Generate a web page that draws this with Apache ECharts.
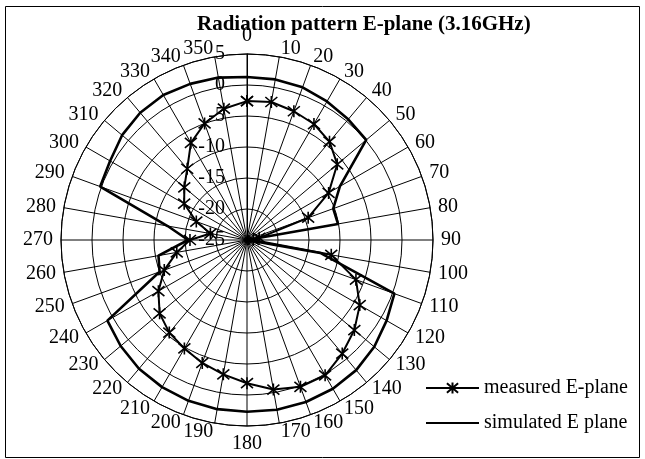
<!DOCTYPE html>
<html>
<head>
<meta charset="utf-8">
<script src="https://cdn.jsdelivr.net/npm/echarts@6/dist/echarts.min.js"></script>
<style>html,body{margin:0;padding:0;background:#fff}#c{width:645px;height:459px}</style>
</head>
<body>
<div id="c"></div>
<script>
const angles = ['0','10','20','30','40','50','60','70','80','90','100','110','120','130','140','150','160','170','180','190','200','210','220','230','240','250','260','270','280','290','300','310','320','330','340','350'];
const angleDeg = [0,10,20,30,40,50,60,70,80,90,100,110,120,130,140,150,160,170,180,190,200,210,220,230,240,250,260,270,280,290,300,310,320,330,340,350];
const measured = [-2.6,-2.4,-2.9,-3.4,-4.3,-6.0,-9.8,-14.5,-23,-24,-11.2,-6.3,-4.0,-2.4,-1.1,0.2,0.2,-0.5,-1.9,-3.0,-3.9,-4.8,-5.5,-6.6,-8.5,-10.8,-13.5,-15.8,-19,-16.3,-13.3,-11.8,-10.0,-6.9,-5.0,-3.5];
const simulated = [1.3,1.3,1.2,0.8,0.4,0.1,-7.7,-10.2,-10.1,-25,-13,0.3,1.0,1.8,2.4,2.7,2.8,2.8,2.7,2.7,2.6,2.4,2.1,1.6,1.0,-10,-10.5,-15.5,-12,0.2,0.5,1.3,1.8,2.0,1.8,1.6];
const radiusMin = -25, radiusMax = 5, radiusStep = 5;

function closed(arr){ const d = arr.map((v,i)=>[v,angleDeg[i]]); d.push([arr[0],360]); return d; }
const FONT = 'Liberation Serif';
function angleLabel(val){
  const i = angleDeg.indexOf(val);
  if (i < 0) return '';
  const t = angles[i];
  if (val === 0 || val === 180) return '{v|' + t + '}';
  if (val === 10) return '{l2|' + t + '}';
  if (val === 170) return '{l3|' + t + '}';
  if (val === 190 || val === 350) return '{r3|' + t + '}';
  return '{m|' + t + '}';
}
const base = {fontFamily:FONT,fontSize:20,color:'#000'};
const chart = echarts.init(document.getElementById('c'), null, {renderer:'canvas'});
chart.setOption({
  animation:false,
  backgroundColor:'#fff',
  title:{text:'Radiation pattern E-plane (3.16GHz)', left:197, top:14, padding:0,
    textStyle:{fontFamily:FONT,fontSize:21,fontWeight:'bold',color:'#000'}},
  graphic:[{type:'rect', shape:{x:5.5,y:6.5,width:634,height:451}, style:{fill:'none',stroke:'#000',lineWidth:1}, z:-1}],
  legend:{orient:'vertical', left:425, top:378, padding:0, itemWidth:53, itemHeight:14, itemGap:15,
    textStyle:{fontFamily:FONT,fontSize:20,color:'#000'},
    data:['measured E-plane',{name:'simulated E plane', itemStyle:{opacity:0}}]},
  polar:{center:[247,240], radius:186},
  angleAxis:{type:'value', min:0, max:360, interval:10, startAngle:90, clockwise:true,
    axisLine:{show:true,lineStyle:{color:'#000',width:1}},
    axisTick:{show:false},
    axisLabel:{fontFamily:FONT,fontSize:20,color:'#000',margin:8,formatter:angleLabel,
      rich:{
        v:Object.assign({lineHeight:20},base),
        m:Object.assign({lineHeight:1},base),
        l2:Object.assign({lineHeight:1,padding:[0,0,0,20]},base),
        l3:Object.assign({lineHeight:1,padding:[0,0,0,30]},base),
        r3:Object.assign({lineHeight:1,padding:[0,30,0,0]},base)
      }},
    splitLine:{show:true,lineStyle:{color:'#000',width:1}},
    splitArea:{show:false}},
  radiusAxis:{type:'value', min:radiusMin, max:radiusMax, interval:radiusStep,
    axisLine:{show:true,lineStyle:{color:'#000',width:1}},
    axisTick:{show:false},
    axisLabel:{fontFamily:FONT,fontSize:20,color:'#000',margin:22,alignMaxLabel:'right',alignMinLabel:'right'},
    splitLine:{show:true,lineStyle:{color:'#000',width:1}}},
  series:[
    {name:'measured E-plane', type:'line', coordinateSystem:'polar', data:closed(measured), clip:false,
     symbol:'path://M0,0L10,10M0,10L10,0M5,-1L5,11', symbolSize:[12,12], showSymbol:true,
     lineStyle:{color:'#000',width:2}, itemStyle:{color:'#000',borderColor:'#000',borderWidth:1.6}, z:3},
    {name:'simulated E plane', type:'line', coordinateSystem:'polar', data:closed(simulated), clip:false,
     symbol:'none', lineStyle:{color:'#000',width:2.6}, itemStyle:{color:'#000'}, z:3}
  ]
});
</script>
</body>
</html>
